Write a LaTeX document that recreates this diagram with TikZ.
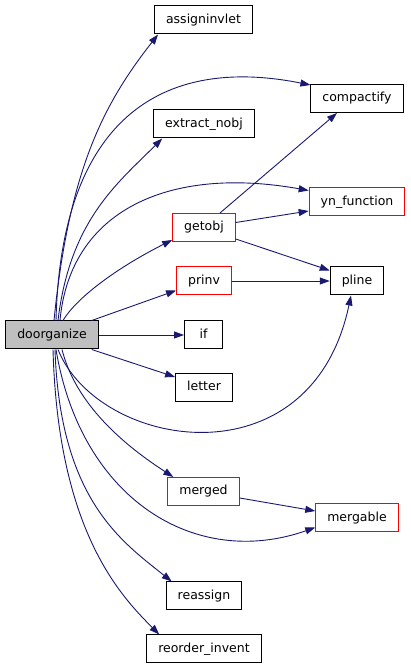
\documentclass[tikz,border=0pt]{standalone}
\usepackage{fontspec}
\setmainfont{DejaVu Sans}
\usepackage{xcolor}
\usepackage{tikz}
\usetikzlibrary{arrows.meta, positioning}
\definecolor{callblue}{HTML}{191970}
\definecolor{rootgray}{HTML}{BFBFBF}

\begin{document}
\begin{tikzpicture}[x=1pt, y=1pt, >={Triangle[length=10pt, width=7pt]},
    font=\fontsize{12.5}{15}\selectfont,
    fn/.style={draw=black, line width=1pt, minimum height=28pt, minimum width=38pt,
        inner xsep=11.5pt, inner ysep=0pt, text height=9.5pt, text depth=2.5pt},
    fnred/.style={fn, draw=red},
    fnroot/.style={fn, fill=rootgray},
    call/.style={->, callblue, line width=0.9pt}]

\useasboundingbox (0,0) rectangle (411,669);

% ── Caller ──────────────────────────────────────
\node[fnroot] (door) at (52, 334) {doorganize};

% ── Callees, middle column ──────────────────────
\node[fn]    (assign)  at (203.5, 649) {assigninvlet};
\node[fn]    (extract) at (204, 545)   {extract\_nobj};
\node[fnred] (getobj)  at (204, 441.5) {getobj};
\node[fnred] (prinv)   at (204, 388)   {prinv};
\node[fn]    (if)      at (203.5, 334) {if};
\node[fn]    (letter)  at (204, 281.5) {letter};
\node[fnred] (merged)  at (203.5, 177.5) {merged};
\node[fn]    (reassign) at (204, 73)   {reassign};
\node[fn]    (reorder) at (204, 20)    {reorder\_invent};

% ── Callees, right column ───────────────────────
\node[fn]    (compact)  at (357, 570.5) {compactify};
\node[fnred] (yn)       at (357, 467)   {yn\_function};
\node[fn]    (pline)    at (357, 388)   {pline};
\node[fnred] (mergable) at (357, 151)   {mergable};

% upward calls
\draw[call] ([xshift=2pt]door.north) .. controls +(15,150) and +(-55,-70) .. ([xshift=4pt]assign.south west);
\draw[call] ([xshift=4pt]door.north) .. controls +(5,200) and +(-150,30) .. ([yshift=-1pt]compact.north west);
\draw[call] ([xshift=6pt]door.north) .. controls +(12,100) and +(-45,-45) .. ([xshift=9pt]extract.south west);
\draw[call] ([xshift=8pt]door.north) .. controls +(10,110) and +(-140,25) .. ([yshift=-3pt]yn.north west);
\draw[call] ([xshift=11pt]door.north) .. controls +(15,25) and +(-50,-25) .. ([yshift=2pt]getobj.south west);
\draw[call] ([xshift=-7pt]door.north east) -- ([yshift=5pt]prinv.south west);

% straight across
\draw[call] (door.east) -- (if.west);
\draw[call] ([xshift=-7pt]door.south east) -- ([yshift=-4pt]letter.north west);

% downward calls
\draw[call] ([xshift=6pt]door.south) .. controls +(40,-100) and +(-40,-190) .. ([xshift=-6pt]pline.south);
\draw[call] ([xshift=10pt]door.south) .. controls +(15,-60) and +(-40,26) .. ([xshift=6pt]merged.north west);
\draw[call] ([xshift=4pt]door.south) .. controls +(25,-150) and +(-120,-42) .. ([yshift=5pt]mergable.south west);
\draw[call] ([xshift=3pt]door.south) .. controls +(5,-150) and +(-50,40) .. ([xshift=6pt]reassign.north west);
\draw[call] ([xshift=1pt]door.south) .. controls +(5,-180) and +(-40,40) .. ([xshift=13pt]reorder.north west);

% second level
\draw[call] ([xshift=16pt]getobj.north) -- ([xshift=-20pt]compact.south);
\draw[call] ([yshift=5pt]getobj.east) -- ([yshift=-9pt]yn.west);
\draw[call] ([yshift=3pt]getobj.south east) -- ([yshift=-4pt]pline.north west);
\draw[call] (prinv.east) -- (pline.west);
\draw[call] ([yshift=-6.5pt]merged.east) -- ([yshift=7pt]mergable.west);

\end{tikzpicture}
\end{document}
